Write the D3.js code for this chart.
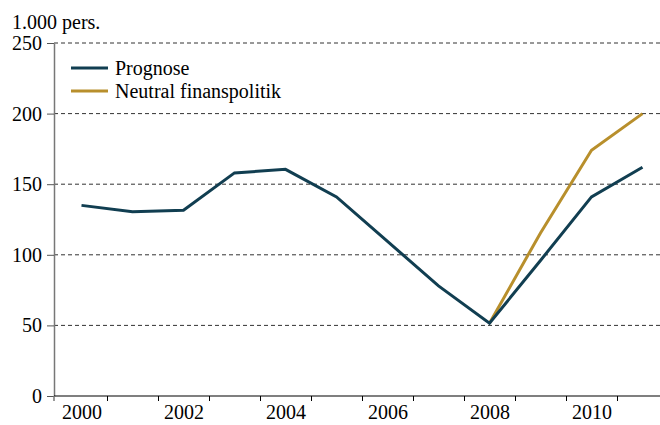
<!DOCTYPE html>
<html>
<head>
<meta charset="utf-8">
<script src="https://cdn.jsdelivr.net/npm/d3@7"></script>
<style>
  body { margin: 0; background: #fff; }
  svg text { font-family: "Liberation Serif", "Times New Roman", Times, "DejaVu Serif", serif; }
</style>
</head>
<body>
<script>
const years = [2000, 2001, 2002, 2003, 2004, 2005, 2006, 2007, 2008, 2009, 2010, 2011];
const prognose = [135, 130.5, 131.5, 158, 160.5, 141, 109.5, 78, 51.5, 96, 141, 162];
const neutralYears = [2008, 2009, 2010, 2011];
const neutral = [51.5, 115.5, 174, 200];
const yTicks = [0, 50, 100, 150, 200, 250];
const xLabels = [2000, 2002, 2004, 2006, 2008, 2010];

const width = 660, height = 425;
const colors = { prognose: '#113e51', neutral: '#b88f2c' };
const serif = '"Liberation Serif", "Times New Roman", Times, "DejaVu Serif", serif';

const svg = d3.select('body').append('svg')
    .attr('width', width)
    .attr('height', height)
    .attr('font-family', serif);

// year centres, band edges at half years
const x = d3.scaleLinear().domain([1999.5, 2011.5]).range([56, 668]);
const y = d3.scaleLinear().domain([0, 250]).range([396, 43]);

// dashed grid
svg.append('g')
    .selectAll('line')
    .data(yTicks.filter(d => d > 0))
    .join('line')
    .attr('x1', 54).attr('x2', width)
    .attr('y1', d => y(d)).attr('y2', d => y(d))
    .attr('stroke', '#333')
    .attr('stroke-width', 1)
    .attr('stroke-dasharray', '4,3');

// y axis
const yAxisG = svg.append('g')
    .attr('transform', 'translate(54,0)')
    .call(d3.axisLeft(y).tickValues(yTicks).tickSize(7).tickSizeOuter(0).tickPadding(5))
    .attr('font-family', serif)
    .attr('font-size', 20);
yAxisG.select('.domain').attr('stroke', '#777').attr('stroke-width', 1.5);
yAxisG.selectAll('.tick line').attr('stroke', '#555');
yAxisG.selectAll('text').attr('fill', '#000');

// x axis: small ticks between years
const xTickG = svg.append('g')
    .attr('transform', 'translate(0,' + y(0) + ')')
    .call(d3.axisBottom(x)
        .tickValues(d3.range(2000.5, 2011.5, 1))
        .tickSize(5)
        .tickSizeOuter(0)
        .tickFormat(''));
xTickG.select('.domain').remove();

svg.append('line')
    .attr('x1', 54).attr('x2', width)
    .attr('y1', y(0)).attr('y2', y(0))
    .attr('stroke', '#000')
    .attr('stroke-width', 1.2);

svg.append('line')
    .attr('x1', 54).attr('x2', 54)
    .attr('y1', y(0)).attr('y2', y(0) + 5)
    .attr('stroke', '#777')
    .attr('stroke-width', 1.5);

// year labels
const xLabelG = svg.append('g')
    .attr('transform', 'translate(0,' + y(0) + ')')
    .call(d3.axisBottom(x)
        .tickValues(xLabels)
        .tickFormat(d3.format('d'))
        .tickSize(0)
        .tickPadding(9))
    .attr('font-family', serif)
    .attr('font-size', 20);
xLabelG.select('.domain').remove();
xLabelG.selectAll('text').attr('fill', '#000');

// unit
svg.append('text')
    .attr('x', 12)
    .attr('y', 29)
    .attr('font-size', 20)
    .text('1.000 pers.');

const line = d3.line()
    .x(d => x(d[0]))
    .y(d => y(d[1]));

svg.append('path')
    .datum(neutralYears.map((yr, i) => [yr, neutral[i]]))
    .attr('fill', 'none')
    .attr('stroke', colors.neutral)
    .attr('stroke-width', 3)
    .attr('d', line);

svg.append('path')
    .datum(years.map((yr, i) => [yr, prognose[i]]))
    .attr('fill', 'none')
    .attr('stroke', colors.prognose)
    .attr('stroke-width', 3)
    .attr('d', line);

// legend
const legendItems = [
    { name: 'Prognose', color: colors.prognose },
    { name: 'Neutral finanspolitik', color: colors.neutral }
];
const legend = svg.append('g')
    .selectAll('g')
    .data(legendItems)
    .join('g')
    .attr('transform', (d, i) => 'translate(71,' + (68 + i * 23) + ')');

legend.append('line')
    .attr('x1', 0).attr('x2', 37)
    .attr('stroke', d => d.color)
    .attr('stroke-width', 3);

legend.append('text')
    .attr('x', 44)
    .attr('y', 7)
    .attr('font-size', 20)
    .text(d => d.name);
</script>
</body>
</html>
